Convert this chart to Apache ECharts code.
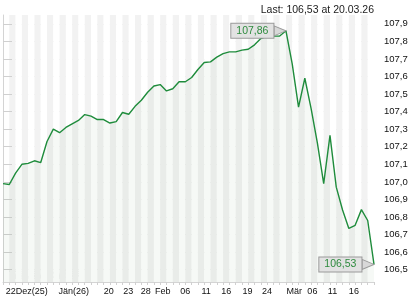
<!DOCTYPE html>
<html>
<head>
<meta charset="utf-8">
<script src="https://cdn.jsdelivr.net/npm/echarts@6/dist/echarts.min.js"></script>
<style>html,body{margin:0;padding:0;background:#fff}#c{width:420px;height:300px}</style>
</head>
<body>
<div id="c"></div>
<script>
// daily closing values, Dec 2025 - Mar 2026
const values = [
  106.99, 106.985, 107.05, 107.10, 107.105, 107.12, 107.11, 107.23, 107.30, 107.28,
  107.31, 107.33, 107.35, 107.383, 107.374, 107.355, 107.355, 107.335, 107.343, 107.395,
  107.385, 107.43, 107.465, 107.51, 107.546, 107.554, 107.518, 107.53, 107.57, 107.57,
  107.594, 107.64, 107.68, 107.683, 107.71, 107.73, 107.74, 107.74, 107.75, 107.755,
  107.78, 107.816, 107.83, 107.83, 107.83, 107.86, 107.67, 107.426, 107.59, 107.417,
  107.22, 106.99, 107.265, 106.97, 106.84, 106.735, 106.753, 106.842, 106.78, 106.53
];
const xLabelTexts = ['22Dez(25)', 'Jän(26)', '20', '23', '28', 'Feb', '06', '11', '16', '19', '24', 'Mär', '06', '11', '16'];
const xLabelPos = [3.77, 11.25, 16.8, 19.9, 22.7, 25.4, 29.0, 32.3, 35.5, 38.9, 42.0, 46.3, 49.2, 52.4, 55.8];
const yTicks = [106.5, 106.6, 106.7, 106.8, 106.9, 107.0, 107.1, 107.2, 107.3, 107.4, 107.5, 107.6, 107.7, 107.8, 107.9];
const maxIndex = 45;
const lastIndex = 59;
const lastText = 'Last: 106,53 at 20.03.26';
const watermark = 'TELETRADER';

const fmt = v => v.toFixed(2).replace('.', ',');
const chart = echarts.init(document.getElementById('c'), null, {renderer: 'canvas'});
const FONT = 'Liberation Sans, Arial, sans-serif';
const boxLabel = {
  show: true,
  position: 'left',
  distance: 0,
  formatter: p => fmt(p.value),
  color: '#2e8b3e',
  fontFamily: FONT,
  fontSize: 10.5,
  backgroundColor: '#e2e2e2',
  borderColor: '#9a9a9a',
  borderWidth: 1,
  padding: [2, 5, 1, 5]
};
chart.setOption({
  animation: false,
  backgroundColor: '#ffffff',
  grid: {left: 3, right: 46, top: 15, bottom: 18, containLabel: false, outerBoundsMode: 'none'},
  graphic: [
    {type: 'text', right: 46, top: 5, style: {text: lastText, fill: '#222', font: '10.5px ' + FONT}},
    {type: 'text', left: 8, top: 269, silent: true, style: {text: watermark, fill: 'rgba(255,255,255,0.9)', stroke: '#c8c8c8', lineWidth: 1, font: 'italic bold 11px ' + FONT}}
  ],
  xAxis: {
    type: 'value',
    min: 0,
    max: values.length - 1,
    interval: 1,
    axisLine: {show: true, lineStyle: {color: '#d4d4d4'}},
    axisTick: {show: true, length: 3, lineStyle: {color: '#d0d0d0'}},
    splitLine: {show: false},
    splitArea: {show: true, areaStyle: {color: ['#ffffff', '#f2f2f2']}},
    axisLabel: {
      customValues: xLabelPos,
      margin: 5,
      color: '#111',
      fontFamily: FONT,
      fontSize: 9,
      formatter: v => {
        for (let i = 0; i < xLabelPos.length; i++) if (Math.abs(xLabelPos[i] - v) < 1e-6) return xLabelTexts[i];
        return '';
      }
    }
  },
  yAxis: {
    type: 'value',
    position: 'right',
    min: 106.43,
    max: 107.95,
    axisLine: {show: true, lineStyle: {color: '#d4d4d4'}},
    axisTick: {show: true, customValues: yTicks, length: 9, lineStyle: {color: '#d0d0d0'}},
    splitLine: {show: true, lineStyle: {color: '#e2e2e2', width: 1}},
    axisLabel: {
      customValues: yTicks,
      margin: 10,
      color: '#111',
      fontFamily: FONT,
      fontSize: 9.5,
      formatter: v => v.toFixed(1).replace('.', ',')
    }
  },
  series: [{
    type: 'line',
    data: values.map((v, i) => [i, v]),
    showSymbol: false,
    symbol: 'none',
    lineStyle: {color: '#1f8c3c', width: 1.4},
    areaStyle: {color: 'rgba(70,140,70,0.07)', origin: 'start'},
    markPoint: {
      symbol: 'path://M0,0 L12,5 L0,10 Z',
      symbolSize: [12, 10],
      symbolOffset: [-6, 0],
      itemStyle: {color: '#d8d8d8', borderColor: '#9a9a9a', borderWidth: 1},
      label: boxLabel,
      data: [
        {coord: [maxIndex, values[maxIndex]], value: values[maxIndex]},
        {coord: [lastIndex, values[lastIndex]], value: values[lastIndex]}
      ]
    }
  }]
});
</script>
</body>
</html>
